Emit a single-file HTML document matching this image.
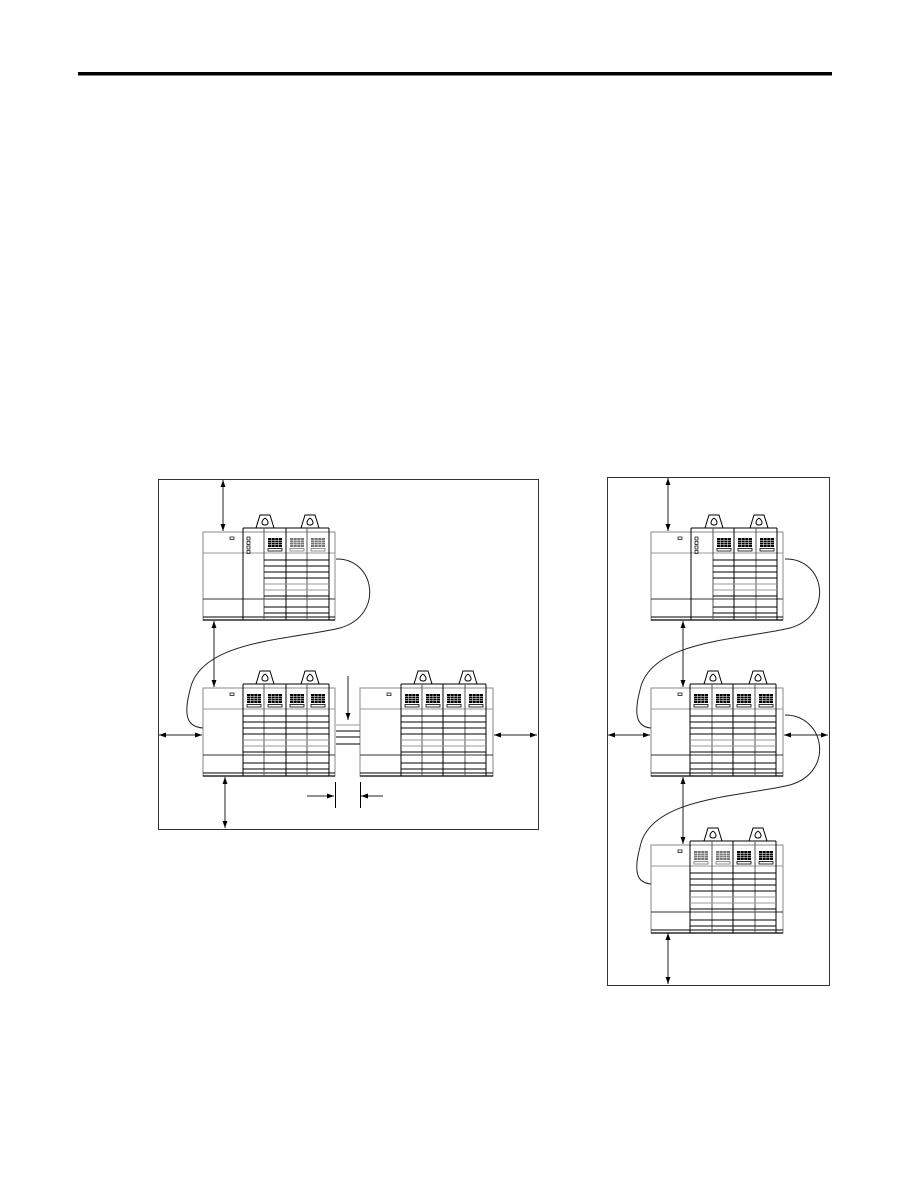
<!DOCTYPE html>
<html><head><meta charset="utf-8"><style>
html,body{margin:0;padding:0;background:#fff;}
svg{display:block;}
</style></head><body>
<svg id="s" width="918" height="1188" viewBox="0 0 918 1188" xmlns="http://www.w3.org/2000/svg">
<defs>
<marker id="a" viewBox="0 0 10 10" refX="10" refY="5" markerWidth="7" markerHeight="7" orient="auto-start-reverse"><path d="M0,1.5 L10,5 L0,8.5 z" fill="#000"/></marker>
</defs>
<rect x="78" y="72" width="754" height="3.5" fill="#000"/>
<rect x="158.5" y="479.5" width="380" height="350" fill="none" stroke="#333" stroke-width="1"/>
<rect x="607.5" y="477.5" width="222" height="508" fill="none" stroke="#333" stroke-width="1"/>
<g id="g" fill="none" stroke="#000" stroke-width="1"></g>
</svg>
<script>
var g=document.getElementById('g'),NS='http://www.w3.org/2000/svg';
function el(t,a){var e=document.createElementNS(NS,t);for(var k in a)e.setAttribute(k,a[k]);g.appendChild(e);return e;}
function L(x1,y1,x2,y2,c,w){el('line',{x1:x1,y1:y1,x2:x2,y2:y2,stroke:c||'#000','stroke-width':w||1});}
function arrow(x1,y1,x2,y2,both){var e=el('line',{x1:x1,y1:y1,x2:x2,y2:y2,stroke:'#222','stroke-width':1,'marker-end':'url(#a)'});if(both)e.setAttribute('marker-start','url(#a)');}
function grid(x,y,shade){var c=shade?'#777':'#000';
 el('rect',{x:x,y:y,width:14,height:9,fill:c,stroke:'none'});
 for(var i=1;i<4;i++)L(x,y+i*2.25,x+14,y+i*2.25,'#fff',0.5);
 for(var j=1;j<4;j++)L(x+j*3.5,y,x+j*3.5,y+9,'#fff',0.5);
 el('rect',{x:x,y:y+10.5,width:14,height:2.5,fill:'none',stroke:c,'stroke-width':0.8});}
function handle(cx,top){el('path',{d:'M'+(cx-9)+','+(top+13)+' L'+(cx-5)+','+top+' L'+(cx+5)+','+top+' L'+(cx+9)+','+(top+13),stroke:'#000'});
 el('path',{d:'M'+cx+','+(top+3)+' C'+(cx+4)+','+(top+6)+' '+(cx+4)+','+(top+10)+' '+cx+','+(top+10)+' C'+(cx-4)+','+(top+10)+' '+(cx-4)+','+(top+6)+' '+cx+','+(top+3),stroke:'#000'});}
function chassis(x,y,ps,sl,r,cpu,shade){
 var h=88;
 el('rect',{x:x,y:y,width:r-x,height:h,fill:'#fff',stroke:'#888'});
 L(x,y+21,r,y+21,'#999');
 L(x,y+67,r,y+67,'#333');
 L(x,y+85,r,y+85,'#000');L(x,y+88,r,y+88,'#000',1.2);
 L(ps,y-4,ps,y+h,'#000');
 var last=sl[sl.length-1];
 L(ps,y-4,last,y-4,'#000');
 for(var i=0;i<sl.length;i++)L(sl[i],y-4,sl[i],y+h,i%2?'#555':'#000');
 var s0=cpu?1:0;
 if(cpu){for(var j=0;j<4;j++)el('rect',{x:ps+4,y:y+5+j*4.5,width:3,height:3,stroke:'#000','stroke-width':0.7});}
 for(var i=s0;i<sl.length-1;i++){grid(sl[i]+4,y+6,shade&&shade.indexOf(i)>=0);}
 var a=sl[s0];
 var rows=[28,34,40,46,52,58,64,75,81];
 for(var k=0;k<rows.length;k++)L(a,y+rows[k],last,y+rows[k],(k==4||k==5)?'#999':'#000',0.9);
 el('rect',{x:x+27,y:y+5,width:4,height:2.5,stroke:'#000','stroke-width':0.7});
 handle(sl[1]+1,y-17);
 handle(sl[3]+3,y-17);
}
chassis(203,532,243,[243,264,286,307,329],335,true,[2,3]);
chassis(203,688,243,[243,264,286,307,329],335,false);
chassis(360,688,401,[401,422,443,465,486],493,false);
chassis(651,532,691,[691,713,734,756,777],783,true);
chassis(651,688,690,[690,712,733,755,776],783,false);
chassis(651,845,690,[690,712,733,755,776],783,false,[0,1]);
arrow(223,480,223,531,true);
arrow(214,621,214,687,true);
arrow(159,735,202,735,true);
arrow(494,735,537,735,true);
arrow(225,777,225,828,true);
arrow(348,676,348,720);
L(336,725,360,725,'#999');L(336,731,360,731,'#000');L(336,737,360,737,'#000');L(336,744,360,744,'#000');
L(335.5,782,335.5,808);L(360.5,782,360.5,808);
arrow(307,796,334,796);arrow(383,796,361,796);
arrow(668,478,668,531,true);
arrow(683,621,683,687,true);
arrow(683,777,683,844,true);
arrow(608,735,650,735,true);
arrow(784,735,828,735,true);
arrow(668,933,668,984,true);
el('path',{d:'M336,559 C375,558 385,615 340,628 C290,640 200,640 190,690 C182,720 190,727 203,728',stroke:'#222'});
el('path',{d:'M785,559 C825,558 835,615 790,628 C740,640 650,640 640,690 C632,720 640,727 651,728',stroke:'#222'});
el('path',{d:'M785,715 C825,715 835,772 790,785 C740,797 650,797 640,847 C632,877 640,883 651,884',stroke:'#222'});
</script>
</body></html>
